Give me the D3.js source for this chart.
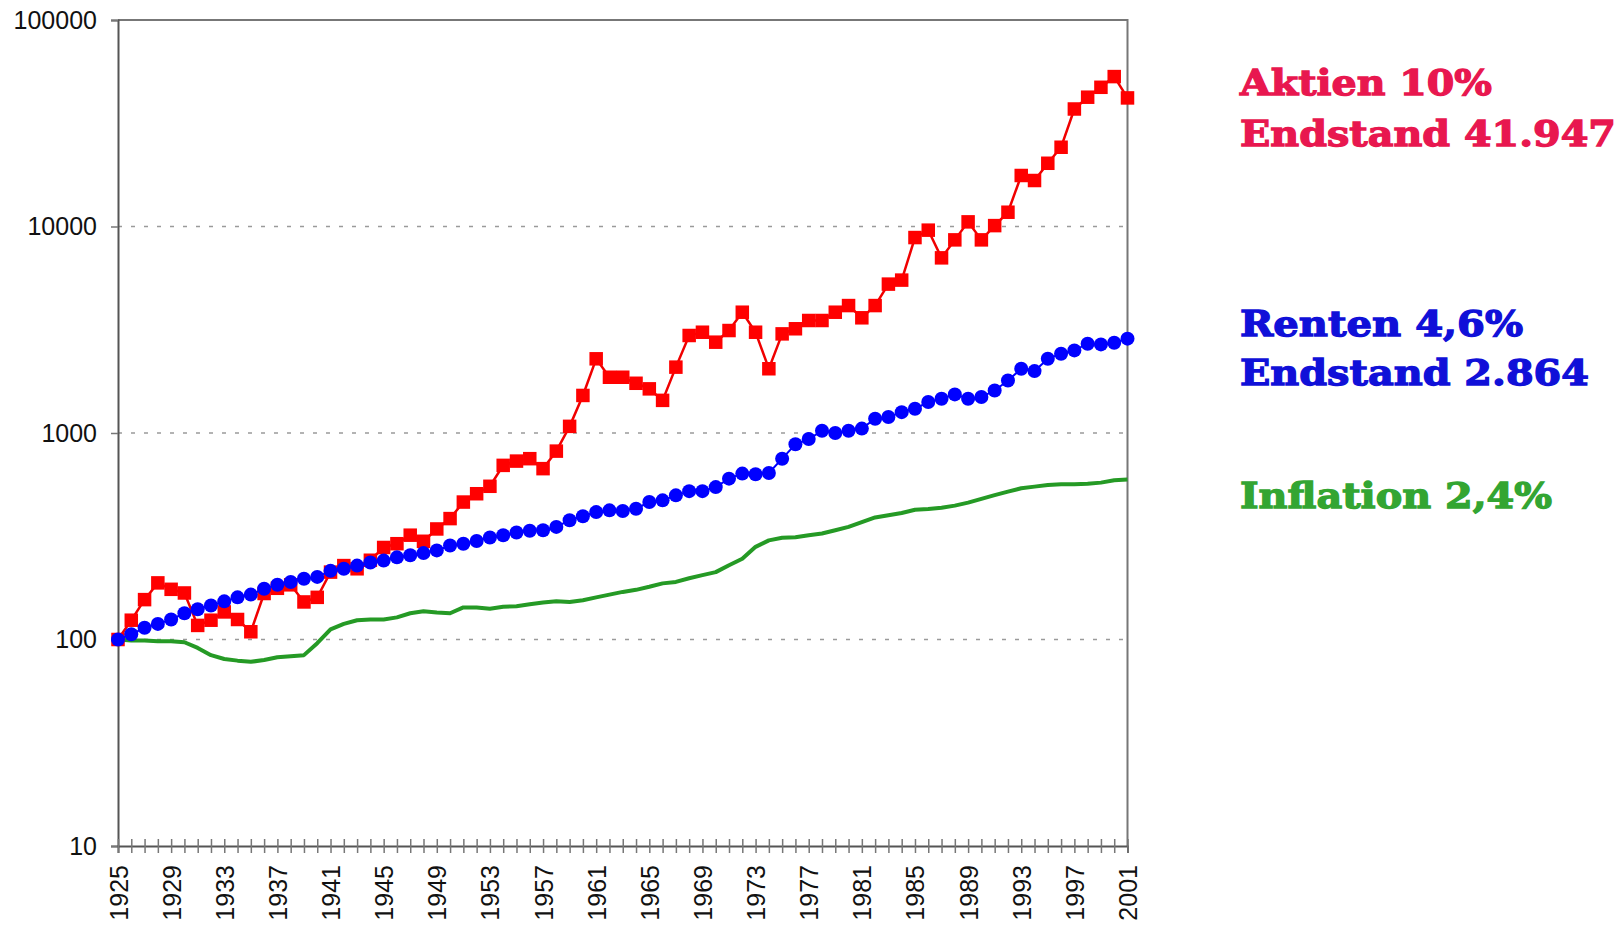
<!DOCTYPE html>
<html>
<head>
<meta charset="utf-8">
<script src="https://cdn.jsdelivr.net/npm/d3@7"></script>
<style>
  html, body { margin: 0; padding: 0; background: #fff; }
  svg { display: block; }
</style>
</head>
<body>
<svg id="chart" width="1622" height="925"></svg>
<script>
// ---- data ----
const years = d3.range(1925, 2002);
const aktien = [
  100,124,156,188,175, 168,117,124,136,125, 109,167,177,184,152,
  160,212,228,220,242, 279,291,320,299,343, 385,463,508,552,697,
  731,751,672,817,1077, 1520,2287,1862,1862,1741, 1636,1439,2084,2966,3076,
  2753,3135,3845,3076,2047, 3020,3197,3506,3506,3845, 4141,3613,4141,5260,5500,
  8840,9600,7050,8615,10530, 8615,10100,11725,17660,16700, 20240,24200,37070,42280,47220,
  53200,41947
];
const renten = [
  100,106,114,119,125, 134,140,146,153,160, 165,176,184,190,197,
  201,215,220,228,236, 241,250,256,262,270, 285,291,300,312,320,
  330,336,338,351,378, 395,414,422,419,430, 463,472,499,523,523,
  547,601,636,631,640, 751,882,935,1025,1000, 1025,1050,1173,1195,1262,
  1310,1412,1466,1538,1466, 1493,1607,1795,2047,1994, 2287,2419,2512,2706,2685,
  2735,2864
];
const inflation = [
  100,99,99,98,98, 97,91,84,80.5,79, 78,79.5,82,83,84,
  96,112,119,124,125, 125,128,134,137,135, 134,143,143,141,144,
  145,148,151,153,152, 155,160,165,170,174, 180,187,190,198,205,
  212,229,246,281,302, 311,313,320,326,338, 351,370,390,400,410,
  425,428,435,445,460, 480,500,520,540,550, 560,565,565,568,575,
  590,595
];
const yTicks = [10, 100, 1000, 10000, 100000];
const legendLines = [
  { text: "Aktien 10%",        color: "#e8174f" },
  { text: "Endstand 41.947",   color: "#e8174f" },
  { text: "Renten 4,6%",       color: "#1010d8" },
  { text: "Endstand 2.864",    color: "#1010d8" },
  { text: "Inflation 2,4%",    color: "#33a532" }
];
const legendBaselines = [95, 146, 336, 385, 508];
const legendWidths = [252, 376, 283, 349, 312];

// ---- layout ----
const svg = d3.select("#chart");
const L = 118, R = 1127.5, T = 20, B = 846;
const x = d3.scaleLinear().domain([1925, 2001]).range([L, R]);
const y = d3.scaleLog().domain([10, 100000]).range([B, T]);

// gridlines
svg.append("g")
  .selectAll("line")
  .data([100, 1000, 10000])
  .join("line")
  .attr("x1", L).attr("x2", R)
  .attr("y1", d => y(d)).attr("y2", d => y(d))
  .attr("stroke", "#9a9a9a")
  .attr("stroke-width", 1.5)
  .attr("stroke-dasharray", "4,9");

// frame top/right
svg.append("path")
  .attr("d", `M${L},${T}H${R}V${B}`)
  .attr("fill", "none")
  .attr("stroke", "#777")
  .attr("stroke-width", 2);

// y axis
const yAxis = svg.append("g")
  .attr("transform", `translate(${L},0)`)
  .call(d3.axisLeft(y).tickValues(yTicks).tickFormat(d3.format("d")).tickSize(7).tickPadding(14));
yAxis.select(".domain").attr("stroke", "#555").attr("stroke-width", 2);
yAxis.selectAll(".tick line").attr("stroke", "#777").attr("stroke-width", 1.5);
yAxis.selectAll("text")
  .attr("font-family", "'Liberation Sans', Arial, sans-serif")
  .attr("font-size", 25)
  .attr("fill", "#111");

// x axis
const xAxis = svg.append("g")
  .attr("transform", `translate(0,${B})`)
  .call(d3.axisBottom(x).tickValues(years)
    .tickFormat(d => ((d - 1925) % 4 === 0 ? String(d) : ""))
    .tickSize(7));
xAxis.select(".domain").attr("stroke", "#555").attr("stroke-width", 2);
xAxis.selectAll(".tick line").attr("y1", -7).attr("y2", 7)
  .attr("stroke", "#777").attr("stroke-width", 1.5);
xAxis.selectAll("text")
  .attr("font-family", "'Liberation Sans', Arial, sans-serif")
  .attr("font-size", 25)
  .attr("fill", "#111")
  .attr("transform", "rotate(-90)")
  .attr("x", -19)
  .attr("y", 0)
  .attr("dy", "0.36em")
  .style("text-anchor", "end");

// series
const line = (arr) => d3.line().x((d, i) => x(years[i])).y(d => y(d))(arr);

// inflation (green line)
svg.append("path")
  .attr("d", line(inflation))
  .attr("fill", "none")
  .attr("stroke", "#259a25")
  .attr("stroke-width", 4)
  .attr("stroke-linejoin", "round");

// Aktien (red squares)
svg.append("path")
  .attr("d", line(aktien))
  .attr("fill", "none")
  .attr("stroke", "#f00000")
  .attr("stroke-width", 2.5);
const sq = 13.5;
svg.append("g")
  .selectAll("rect")
  .data(aktien)
  .join("rect")
  .attr("x", (d, i) => x(years[i]) - sq / 2)
  .attr("y", d => y(d) - sq / 2)
  .attr("width", sq).attr("height", sq)
  .attr("fill", "#ff0000");

// Renten (blue circles)
svg.append("path")
  .attr("d", line(renten))
  .attr("fill", "none")
  .attr("stroke", "#0000ff")
  .attr("stroke-width", 2);
svg.append("g")
  .selectAll("circle")
  .data(renten)
  .join("circle")
  .attr("cx", (d, i) => x(years[i]))
  .attr("cy", d => y(d))
  .attr("r", 7)
  .attr("fill", "#0000ff");

// legend text
svg.append("g")
  .selectAll("text")
  .data(legendLines)
  .join("text")
  .attr("x", 1240)
  .attr("y", (d, i) => legendBaselines[i])
  .attr("font-family", "'DejaVu Serif', serif")
  .attr("font-weight", "bold")
  .attr("font-size", 36)
  .attr("fill", d => d.color)
  .attr("stroke", d => d.color)
  .attr("stroke-width", 1.3)
  .attr("textLength", (d, i) => legendWidths[i])
  .attr("lengthAdjust", "spacingAndGlyphs")
  .text(d => d.text);
</script>
</body>
</html>
